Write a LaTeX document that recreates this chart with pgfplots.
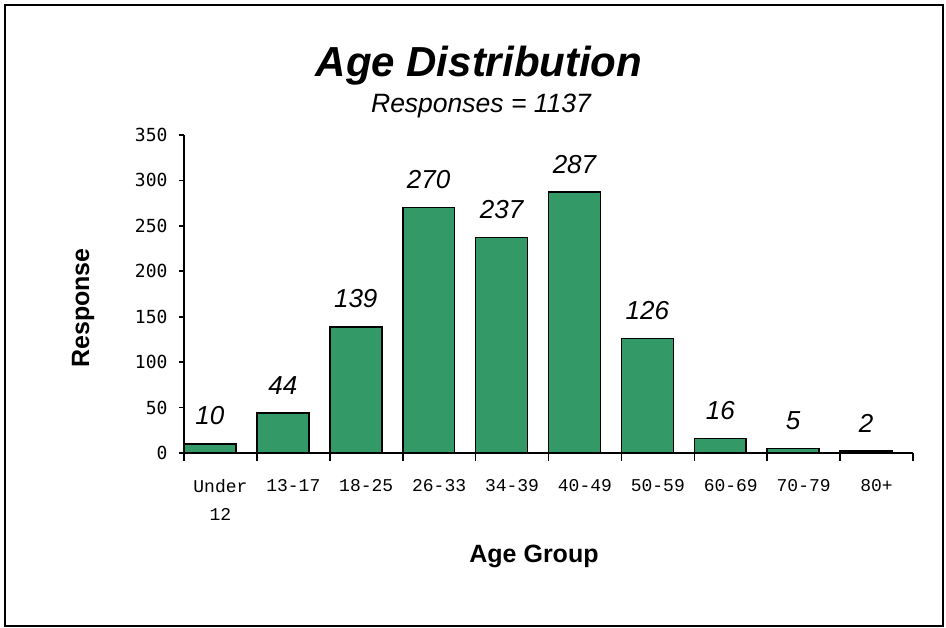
\documentclass[border=0pt]{standalone}
\usepackage{pgfplots}
\pgfplotsset{compat=1.18}
\usepackage{fontspec}
\setmainfont{Liberation Sans}
\newfontfamily\cour{Liberation Mono}
\newfontfamily\dvmono{DejaVu Sans Mono}
\definecolor{barfill}{HTML}{339966}

\begin{document}
\begin{tikzpicture}[x=1pt,y=1pt]
  % page size and outer frame
  \path (-184,-175) rectangle (762,453);
  \draw[line width=1.5pt] (-179,-173) rectangle (759,448);

  \begin{axis}[
      at={(0,0)}, anchor=south west,
      width=729pt, height=318pt, scale only axis,
      xmin=-0.5, xmax=9.5, ymin=0, ymax=350,
      axis x line*=bottom, axis y line*=left,
      axis line style={-, line width=1.6pt},
      ytick={0,50,...,350},
      xtick={0,...,9},
      xticklabels={{Under\\12},13-17,18-25,26-33,34-39,40-49,50-59,60-69,70-79,80+},
      minor xtick={-0.5,0.5,...,9.5},
      major x tick style={draw=none},
      tick align=outside,
      major tick length=5pt, minor tick length=8pt,
      tick style={line width=1.6pt, black},
      xticklabel style={font=\cour\fontsize{18}{28}\selectfont, align=center, yshift=-18pt},
      yticklabel style={font=\dvmono\fontsize{18}{20}\selectfont, xshift=-8pt},
      /pgf/number format/assume math mode=true,
      ybar, bar width=0.712, bar shift=-0.144,
      nodes near coords,
      every node near coord/.append style={font=\itshape\fontsize{26}{28}\selectfont, anchor=base, yshift=19pt},
    ]
    \addplot[fill=barfill, draw=black, line width=1.6pt] coordinates {
      (0,10) (1,44) (2,139) (3,270) (4,237)
      (5,287) (6,126) (7,16) (8,5) (9,2)};
  \end{axis}

  \node[anchor=base, font=\bfseries\itshape\fontsize{42}{48}\selectfont] at (295,376) {Age Distribution};
  \node[anchor=base, font=\itshape\fontsize{26.5}{30}\selectfont] at (297,340) {Responses = 1137};
  \node[anchor=base, font=\bfseries\fontsize{25}{30}\selectfont] at (350,-110) {Age Group};
  \node[rotate=90, font=\bfseries\fontsize{25}{30}\selectfont] at (-101,145) {Response};
\end{tikzpicture}
\end{document}
